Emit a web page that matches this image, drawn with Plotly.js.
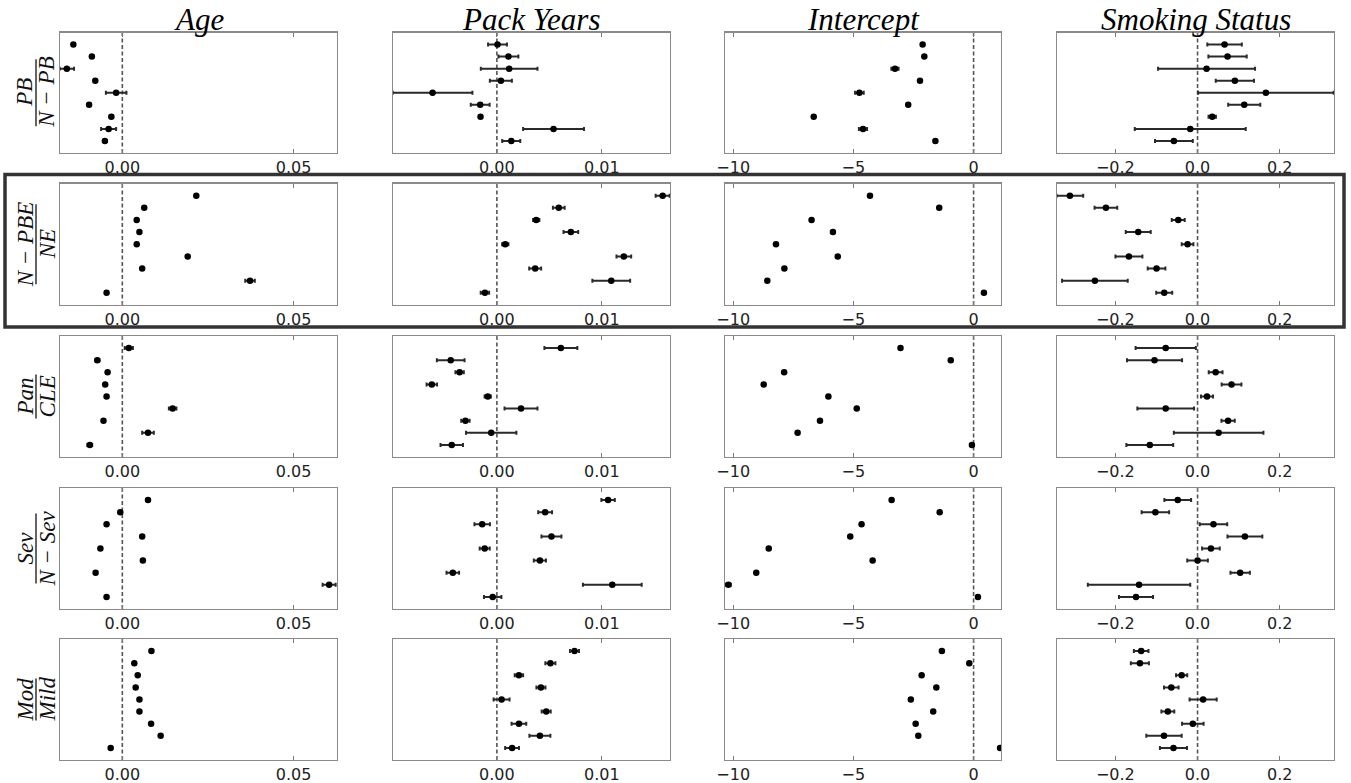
<!DOCTYPE html>
<html>
<head>
<meta charset="utf-8">
<script src="https://cdn.plot.ly/plotly-3.0.1.min.js"></script>
<style>html,body{margin:0;padding:0;background:#fff;}#chart{width:1351px;height:783px;}</style>
</head>
<body>
<div id="chart"></div>
<script>
// ---- Data (rows top->bottom, 9 estimates each listed top->bottom) ----
const colTitles = ['Age', 'Pack Years', 'Intercept', 'Smoking Status'];
const rowNum = ['PB', 'N − PBE', 'Pan', 'Sev', 'Mod'];
const rowDen = ['N − PB', 'NE', 'CLE', 'N − Sev', 'Mild'];

const age = [
  [-0.0143, -0.0089, -0.0162, -0.0079, -0.0018, -0.0097, -0.0032, -0.0040, -0.0051],
  [0.0216, 0.0064, 0.0042, 0.0050, 0.0042, 0.0191, 0.0058, 0.0373, -0.0046],
  [0.0019, -0.0073, -0.0043, -0.0050, -0.0046, 0.0147, -0.0055, 0.0075, -0.0095],
  [0.0075, -0.0006, -0.0046, 0.0058, -0.0064, 0.0060, -0.0078, 0.0604, -0.0046],
  [0.0085, 0.0035, 0.0045, 0.0039, 0.0050, 0.0050, 0.0084, 0.0112, -0.0034]
];
const ageErr = [
  [0.0004, 0.0004, 0.0021, 0.0004, 0.0030, 0.0004, 0.0005, 0.0022, 0.0005],
  [0.0003, 0.0003, 0.0003, 0.0003, 0.0003, 0.0003, 0.0003, 0.0014, 0.0003],
  [0.0012, 0.0006, 0.0003, 0.0003, 0.0003, 0.0011, 0.0003, 0.0017, 0.0007],
  [0.0003, 0.0004, 0.0003, 0.0003, 0.0003, 0.0003, 0.0003, 0.0019, 0.0003],
  [0.0003, 0.0003, 0.0003, 0.0003, 0.0003, 0.0003, 0.0003, 0.0003, 0.0003]
];
const packYears = [
  [0.00006, 0.0011, 0.00117, 0.00038, -0.00613, -0.00159, -0.00156, 0.0054, 0.00137],
  [0.0158, 0.0059, 0.00375, 0.00705, 0.0008, 0.0121, 0.00365, 0.0109, -0.00114],
  [0.0061, -0.0044, -0.00355, -0.0062, -0.00087, 0.0023, -0.0030, -0.00054, -0.0043],
  [0.0106, 0.0046, -0.0014, 0.0052, -0.00116, 0.0041, -0.0042, 0.0110, -0.0004],
  [0.0074, 0.0051, 0.0021, 0.0042, 0.00045, 0.0047, 0.0021, 0.0041, 0.00145]
];
const packYearsErr = [
  [0.0009, 0.00095, 0.0027, 0.00105, 0.0038, 0.0009, 0.00015, 0.0029, 0.00086],
  [0.00067, 0.00056, 0.0003, 0.0007, 0.0003, 0.0007, 0.00057, 0.0018, 0.0004],
  [0.00157, 0.00132, 0.0004, 0.0005, 0.0003, 0.00157, 0.0004, 0.0024, 0.00107],
  [0.00064, 0.00066, 0.00074, 0.00095, 0.00048, 0.00058, 0.0006, 0.0028, 0.00083],
  [0.00043, 0.00048, 0.0004, 0.00043, 0.00076, 0.00043, 0.0007, 0.0010, 0.00066]
];
const intercept = [
  [-2.12, -2.05, -3.27, -2.23, -4.75, -2.72, -6.65, -4.60, -1.59],
  [-4.31, -1.43, -6.74, -5.85, -8.22, -5.65, -7.87, -8.58, 0.43],
  [-3.04, -0.95, -7.88, -8.73, -6.04, -4.86, -6.39, -7.32, -0.07],
  [-3.41, -1.41, -4.66, -5.13, -8.52, -4.20, -9.04, -10.2, 0.18],
  [-1.32, -0.18, -2.16, -1.55, -2.61, -1.68, -2.41, -2.30, 1.10]
];
const interceptErr = [
  [0.05, 0.05, 0.15, 0.05, 0.18, 0.05, 0.05, 0.17, 0.05],
  [0.05, 0.05, 0.05, 0.05, 0.05, 0.05, 0.05, 0.05, 0.05],
  [0.05, 0.05, 0.05, 0.05, 0.05, 0.05, 0.05, 0.05, 0.05],
  [0.05, 0.05, 0.05, 0.05, 0.05, 0.05, 0.05, 0.10, 0.05],
  [0.05, 0.05, 0.05, 0.05, 0.05, 0.05, 0.05, 0.05, 0.05]
];
const smoking = [
  [0.0657, 0.073, 0.0219, 0.0908, 0.1663, 0.1136, 0.0357, -0.0178, -0.0576],
  [-0.3106, -0.223, -0.047, -0.1444, -0.0243, -0.167, -0.0998, -0.2498, -0.0811],
  [-0.0775, -0.1047, 0.044, 0.0827, 0.023, -0.0775, 0.0743, 0.0513, -0.1162],
  [-0.0482, -0.1026, 0.0387, 0.1152, 0.0325, 0.0, 0.1037, -0.1424, -0.1497],
  [-0.1372, -0.1403, -0.0387, -0.0639, 0.0136, -0.0723, -0.0115, -0.0817, -0.0586]
];
const smokingErr = [
  [0.042, 0.0466, 0.118, 0.0466, 0.165, 0.039, 0.009, 0.135, 0.046],
  [0.0324, 0.0276, 0.0158, 0.0304, 0.0142, 0.0328, 0.0215, 0.0799, 0.0195],
  [0.0733, 0.067, 0.0168, 0.024, 0.0147, 0.069, 0.0162, 0.109, 0.057],
  [0.0325, 0.0335, 0.0335, 0.0424, 0.0215, 0.0251, 0.0236, 0.1246, 0.0414],
  [0.0178, 0.022, 0.0136, 0.0178, 0.033, 0.0157, 0.0262, 0.043, 0.033]
];
const positions = [9, 8, 7, 6, 5, 4, 3, 2, 1];

const xTickVals = [[0, 0.05], [0, 0.01], [-10, -5, 0], [-0.2, 0, 0.2]];
const xTickText = [['0.00', '0.05'], ['0.00', '0.01'], ['\u221210', '\u22125', '0'], ['\u22120.2', '0.0', '0.2']];

// ---- Layout geometry (pixels) ----
const W = 1351, H = 783;
const colPx = [[60, 337], [393, 670], [725, 1001], [1057, 1334]];
const rowPx = [[32.5, 153], [183.5, 305], [336, 457], [488, 609], [639, 760]];
const xRanges = [[-0.0182, 0.0627], [-0.0099, 0.0165], [-10.34, 1.14], [-0.342, 0.332]];
const fracLen = [67, 80, 44, 70, 42];

const values = [age, packYears, intercept, smoking];
const errors = [ageErr, packYearsErr, interceptErr, smokingErr];

const traces = [];
const layout = {
  width: W, height: H,
  margin: {l: 0, r: 0, t: 0, b: 0},
  paper_bgcolor: '#fff', plot_bgcolor: '#fff',
  showlegend: false,
  shapes: [], annotations: []
};

for (let r = 0; r < 5; r++) {
  for (let c = 0; c < 4; c++) {
    const k = r * 4 + c + 1;
    const xa = 'x' + (k === 1 ? '' : k), ya = 'y' + (k === 1 ? '' : k);
    layout.shapes.push({
      type: 'line', xref: xa, yref: ya + ' domain',
      x0: 0, x1: 0, y0: 0, y1: 1, layer: 'below',
      line: {color: '#555', width: 1.6, dash: '4px,2.5px'}
    });
    traces.push({
      type: 'scatter', mode: 'markers',
      x: values[c][r], y: positions,
      xaxis: xa, yaxis: ya,
      marker: {color: '#000', size: 6.5},
      error_x: {type: 'data', array: errors[c][r], visible: true, color: '#2a2a2a', thickness: 2, width: 2},
      cliponaxis: true, hoverinfo: 'x'
    });
    layout['xaxis' + (k === 1 ? '' : k)] = {
      domain: [colPx[c][0] / W, colPx[c][1] / W],
      anchor: ya, range: xRanges[c],
      tickmode: 'array', tickvals: xTickVals[c], ticktext: xTickText[c],
      ticks: 'inside', ticklen: 4, tickcolor: '#777', tickwidth: 1,
      mirror: 'allticks', showline: true, linecolor: '#8a8a8a', linewidth: 1.2,
      showgrid: false, zeroline: false,
      tickfont: {family: 'DejaVu Sans', size: 16, color: '#222'}
    };
    layout['yaxis' + (k === 1 ? '' : k)] = {
      domain: [1 - rowPx[r][1] / H, 1 - rowPx[r][0] / H],
      anchor: xa, range: [0, 10],
      showticklabels: false, ticks: '', showgrid: false, zeroline: false,
      showline: true, mirror: true, linecolor: '#8a8a8a', linewidth: 1.2
    };
  }
  // Row label as a rotated fraction
  const yc = (rowPx[r][0] + rowPx[r][1]) / 2;
  layout.annotations.push({
    xref: 'paper', yref: 'paper', x: 25 / W, y: 1 - yc / H,
    text: '<i>' + rowNum[r] + '</i>', textangle: -90, showarrow: false,
    xanchor: 'center', yanchor: 'middle',
    font: {family: 'Liberation Serif', size: 23, color: '#111'}
  });
  layout.annotations.push({
    xref: 'paper', yref: 'paper', x: 47 / W, y: 1 - yc / H,
    text: '<i>' + rowDen[r] + '</i>', textangle: -90, showarrow: false,
    xanchor: 'center', yanchor: 'middle',
    font: {family: 'Liberation Serif', size: 23, color: '#111'}
  });
  layout.shapes.push({
    type: 'line', xref: 'paper', yref: 'paper',
    x0: 36 / W, x1: 36 / W,
    y0: 1 - (yc - fracLen[r] / 2) / H, y1: 1 - (yc + fracLen[r] / 2) / H,
    line: {color: '#111', width: 1.3}
  });
}

// Column titles
for (let c = 0; c < 4; c++) {
  layout.annotations.push({
    xref: 'paper', yref: 'paper',
    x: (colPx[c][0] + colPx[c][1]) / 2 / W, y: 1 - 19 / H,
    text: '<i>' + colTitles[c] + '</i>', showarrow: false,
    xanchor: 'center', yanchor: 'middle',
    font: {family: 'Liberation Serif', size: 31, color: '#000'}
  });
}

// Highlight box around second row
layout.shapes.push({
  type: 'rect', xref: 'paper', yref: 'paper',
  x0: 5 / W, x1: 1344 / W, y0: 1 - 327 / H, y1: 1 - 174.5 / H,
  line: {color: '#333', width: 3.5}, fillcolor: 'rgba(0,0,0,0)'
});

Plotly.newPlot('chart', traces, layout, {displayModeBar: false, staticPlot: true});
</script>
</body>
</html>
